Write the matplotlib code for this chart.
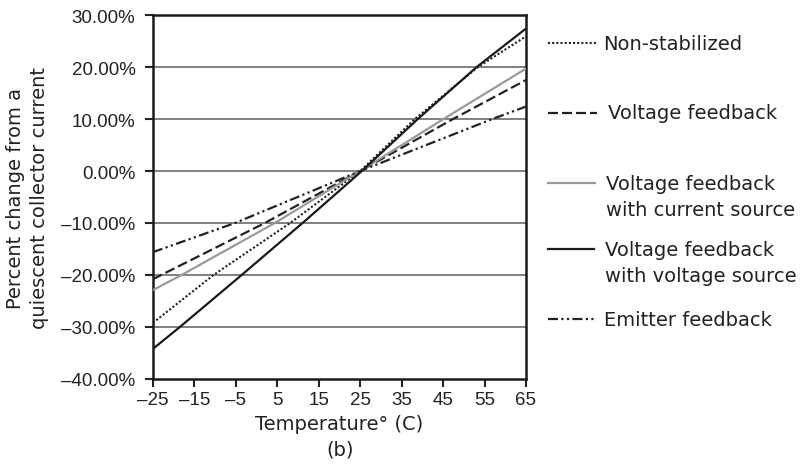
import matplotlib
matplotlib.use('Agg')
import matplotlib.pyplot as plt
from matplotlib.lines import Line2D
from matplotlib.ticker import FuncFormatter

plt.rcParams['font.family'] = ['DejaVu Sans']

# values (temperature in C, percent change)
nonstab_t = [-25, -10.4, 8.1, 25, 38.2, 53.4, 65]
nonstab_v = [-29.2, -20, -10, 0, 10, 20, 25.9]

vfb_t = [-25, 2, 25, 47.4, 65]
vfb_v = [-20.8, -10, 0, 10, 17.5]

vfb_cur_t = [-25, -18.1, 4.4, 25, 45.1, 65]
vfb_cur_v = [-22.9, -20, -10, 0, 10, 19.7]

vfb_volt_t = [-25, -18.5, -3.6, 11.1, 25.4, 38.9, 53.1, 65]
vfb_volt_v = [-34.2, -30, -20, -10, 0, 10, 20, 27.4]

emit_t = [-25, -5.2, 25, 56.9, 65]
emit_v = [-15.6, -10, 0, 10, 12.4]

labels = ['Non-stabilized', 'Voltage feedback',
          'Voltage feedback\nwith current source',
          'Voltage feedback\nwith voltage source',
          'Emitter feedback']

xticks = [-25, -15, -5, 5, 15, 25, 35, 45, 55, 65]
yticks = [-40, -30, -20, -10, 0, 10, 20, 30]

TXT = '#222222'
fig = plt.figure(figsize=(8.05, 4.77), dpi=100)
ax = fig.add_axes([0.19, 0.2034, 0.4634, 0.763])

for y in yticks[1:-1]:
    ax.axhline(y, color='#5e5e5e', lw=1.1, zorder=1)

styles = [
    dict(color='#222222', lw=1.5, ls=(0, (1, 1))),
    dict(color='#222222', lw=1.6, ls=(0, (4.5, 1.8))),
    dict(color='#9a9a9a', lw=1.6, ls='-'),
    dict(color='#1a1a1a', lw=1.6, ls='-'),
    dict(color='#222222', lw=1.6, ls=(0, (4.5, 1.5, 1, 1.5, 1, 1.5))),
]
series = [(nonstab_t, nonstab_v), (vfb_t, vfb_v), (vfb_cur_t, vfb_cur_v),
          (vfb_volt_t, vfb_volt_v), (emit_t, emit_v)]
for (t, v), st in zip(series, styles):
    ax.plot(t, v, zorder=3, solid_capstyle='butt', **st)

ax.set_xlim(-25, 65)
ax.set_ylim(-40, 30)
ax.set_xticks(xticks)
ax.set_yticks(yticks)
ax.xaxis.set_major_formatter(FuncFormatter(lambda x, p: f'{x:.0f}'.replace('-', '\u2013')))
ax.yaxis.set_major_formatter(FuncFormatter(lambda y, p: f'{y:.2f}%'.replace('-', '\u2013')))
ax.tick_params(direction='out', length=6, width=1.5, labelsize=13.5, colors=TXT)
ax.tick_params(axis='x', pad=3)
ax.tick_params(axis='y', pad=6.5)
for lab in ax.get_xticklabels() + ax.get_yticklabels():
    lab.set_family(['Liberation Sans', 'DejaVu Sans'])
for s in ax.spines.values():
    s.set_linewidth(1.8)
    s.set_color('#1a1a1a')

ax.set_xlabel('Temperature\u00b0 (C)', fontsize=14, color=TXT, labelpad=4)
ax.set_ylabel('Percent change from a\nquiescent collector current', fontsize=14,
              color=TXT, labelpad=9, linespacing=1.3)
fig.text(0.422, 0.056, '(b)', fontsize=14, color=TXT, ha='center', va='center')

# hand-placed legend
W, H = 805, 477
leg_y = [44, 114, 184, 250, 320]
text_x = [603, 608, 606, 605, 604]
line_end = [597, 597, 595, 594, 597]
for i, st in enumerate(styles):
    yy = 1 - leg_y[i] / H
    fig.add_artist(Line2D([548 / W, line_end[i] / W], [yy, yy], **st))
    if '\n' in labels[i]:
        fig.text(text_x[i] / W, 1 - (leg_y[i] + 13.5) / H, labels[i], fontsize=14,
                 color=TXT, ha='left', va='center', linespacing=1.45)
    else:
        fig.text(text_x[i] / W, yy, labels[i], fontsize=14, color=TXT,
                 ha='left', va='center')

fig.savefig('out.png', dpi=100)
